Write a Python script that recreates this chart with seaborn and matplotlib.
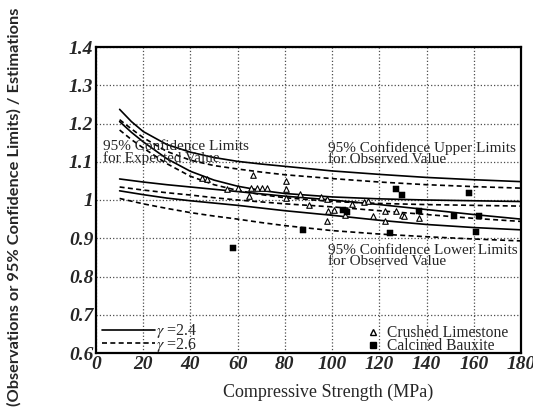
import numpy as np
import pandas as pd
import matplotlib
matplotlib.use("Agg")
import matplotlib.pyplot as plt
import seaborn as sns
from matplotlib.lines import Line2D

sns.set_theme(style="white")
plt.rcParams['font.family'] = ['Liberation Serif', 'DejaVu Serif']
plt.rcParams['mathtext.fontset'] = 'stix'

# ---- data ----
x_curve = [10, 15, 20, 30, 40, 50, 60, 70, 80, 100, 120, 140, 160, 180]
upper_obs_24 = [1.237, 1.205, 1.179, 1.145, 1.125, 1.111, 1.101, 1.094, 1.088, 1.076, 1.067, 1.059, 1.053, 1.048]
upper_obs_26 = [1.210, 1.186, 1.163, 1.127, 1.104, 1.090, 1.081, 1.073, 1.066, 1.056, 1.047, 1.040, 1.035, 1.031]
upper_exp_24 = [1.205, 1.177, 1.152, 1.108, 1.075, 1.052, 1.036, 1.025, 1.017, 1.008, 1.003, 1.000, 0.998, 0.996]
upper_exp_26 = [1.183, 1.158, 1.136, 1.095, 1.062, 1.040, 1.025, 1.014, 1.006, 0.996, 0.991, 0.988, 0.986, 0.984]
lower_exp_24 = [1.055, 1.051, 1.047, 1.040, 1.034, 1.028, 1.022, 1.016, 1.010, 1.000, 0.988, 0.975, 0.962, 0.950]
lower_exp_26 = [1.034, 1.030, 1.026, 1.019, 1.013, 1.006, 1.000, 0.995, 0.990, 0.982, 0.972, 0.962, 0.952, 0.944]
lower_obs_24 = [1.024, 1.019, 1.014, 1.005, 0.998, 0.992, 0.986, 0.979, 0.972, 0.960, 0.947, 0.936, 0.928, 0.922]
lower_obs_26 = [1.004, 0.997, 0.990, 0.978, 0.967, 0.958, 0.950, 0.941, 0.933, 0.920, 0.911, 0.904, 0.898, 0.893]

limestone_x = [44.8, 46.9, 55.5, 60.0, 65.0, 65.5, 68.0, 70.5, 72.5, 66.6, 80.4, 80.4, 80.6, 86.4, 90.4,
               95.3, 97.9, 98.2, 100.8, 105.5, 97.7, 108.3, 113.3, 115.0, 117.2, 122.5, 127.1, 122.2,
               129.5, 130.6, 137.0]
limestone_y = [1.058, 1.056, 1.028, 1.032, 1.011, 1.031, 1.031, 1.031, 1.031, 1.065, 1.049, 1.029, 1.004, 1.015, 0.987,
               1.008, 1.003, 0.970, 0.975, 0.961, 0.946, 0.990, 0.995, 0.997, 0.957, 0.970, 0.970, 0.946,
               0.960, 0.957, 0.952]
bauxite_x = [58.2, 87.7, 104.5, 106.3, 124.6, 127.1, 129.8, 137.0, 151.6, 157.9, 161.0, 162.0]
bauxite_y = [0.874, 0.922, 0.975, 0.969, 0.914, 1.030, 1.013, 0.970, 0.958, 1.017, 0.916, 0.958]

x_ticks = [0, 20, 40, 60, 80, 100, 120, 140, 160, 180]
y_ticks = [0.6, 0.7, 0.8, 0.9, 1.0, 1.1, 1.2, 1.3, 1.4]
y_ticklabels = ['0.6', '0.7', '0.8', '0.9', '1', '1.1', '1.2', '1.3', '1.4']

curves = {
    ('upper_obs', '2.4'): upper_obs_24, ('upper_obs', '2.6'): upper_obs_26,
    ('upper_exp', '2.4'): upper_exp_24, ('upper_exp', '2.6'): upper_exp_26,
    ('lower_exp', '2.4'): lower_exp_24, ('lower_exp', '2.6'): lower_exp_26,
    ('lower_obs', '2.4'): lower_obs_24, ('lower_obs', '2.6'): lower_obs_26,
}
rows = []
for (name, g), vals in curves.items():
    for xv, yv in zip(x_curve, vals):
        rows.append({'x': xv, 'y': yv, 'curve': name + g, 'gamma': g})
df = pd.DataFrame(rows)

fig = plt.figure(figsize=(5.33, 4.16), dpi=100)
ax = fig.add_axes([96/533, 1 - 353/416, (521 - 96)/533, (353 - 47)/416])

for g in ['2.4', '2.6']:
    sub = df[df.gamma == g]
    sns.lineplot(data=sub, x='x', y='y', units='curve', estimator=None, color='black',
                 linewidth=1.2, linestyle='-' if g == '2.4' else '--', ax=ax, legend=False,
                 sort=True)
for line in ax.lines:
    if line.get_linestyle() == '--':
        line.set_dashes((3, 2))

sns.scatterplot(x=limestone_x, y=limestone_y, marker='^', s=16, facecolor='white',
                edgecolor='black', linewidth=0.8, ax=ax, zorder=3)
sns.scatterplot(x=bauxite_x, y=bauxite_y, marker='s', s=20, color='black',
                edgecolor='black', ax=ax, zorder=3)

ax.set_xlim(0, 180)
ax.set_ylim(0.6, 1.4)
ax.set_xticks(x_ticks)
ax.set_yticks(y_ticks)
ax.set_yticklabels(y_ticklabels)
ax.set_xticklabels([str(v) for v in x_ticks])
for lab in ax.get_xticklabels() + ax.get_yticklabels():
    lab.set_fontweight('bold')
    lab.set_fontstyle('italic')
    lab.set_fontsize(14)
ax.tick_params(length=0, pad=2)
ax.grid(True, linestyle=':', color='0.3', linewidth=0.9)
for sp in ax.spines.values():
    sp.set_color('black')
    sp.set_linewidth(1.6)

ax.set_xlabel('Compressive Strength (MPa)', fontsize=13)
ax.xaxis.set_label_coords((328 - 96) / 425, (353 - 392) / 306)
ax.xaxis.label.set_va('center')
ax.set_ylabel('(Observations or 95% Confidence Limits) / Estimations', fontsize=11.8,
              family=['Lato', 'DejaVu Sans'], fontweight='bold')
ax.yaxis.set_label_coords((14 - 96) / 425, (353 - 207) / 306)
ax.yaxis.label.set_va('center')

tkw = dict(fontsize=11, linespacing=0.8, va='top', ha='left')
ax.text(3.0, 1.156, '95% Confidence Limits\nfor Expected Value', **tkw)
ax.text(98.3, 1.154, '95% Confidence Upper Limits\nfor Observed Value', **tkw)
ax.text(98.3, 0.884, '95% Confidence Lower Limits\nfor Observed Value', **tkw)

h1 = [Line2D([], [], color='black', lw=1.2, ls='-'),
      Line2D([], [], color='black', lw=1.2, ls=(0, (3, 2)))]
leg1 = ax.legend(h1, [r'$\gamma$ =2.4', r'$\gamma$ =2.6'], loc='lower left', frameon=False,
                 fontsize=11.5, handlelength=3.3, handletextpad=0.05, labelspacing=-0.3,
                 borderpad=0.0, borderaxespad=0.0, bbox_to_anchor=(0.015, -0.002))
ax.add_artist(leg1)
h2 = [Line2D([], [], marker='^', ls='', markerfacecolor='white', markeredgecolor='black', markersize=4.5),
      Line2D([], [], marker='s', ls='', color='black', markersize=4.5)]
ax.legend(h2, ['Crushed Limestone', 'Calcined Bauxite'], loc='lower right', frameon=False,
          fontsize=11.2, handlelength=0.8, handletextpad=0.5, labelspacing=-0.2,
          borderpad=0.0, borderaxespad=0.0, bbox_to_anchor=(0.97, -0.004))

fig.savefig('out.png', dpi=100)
